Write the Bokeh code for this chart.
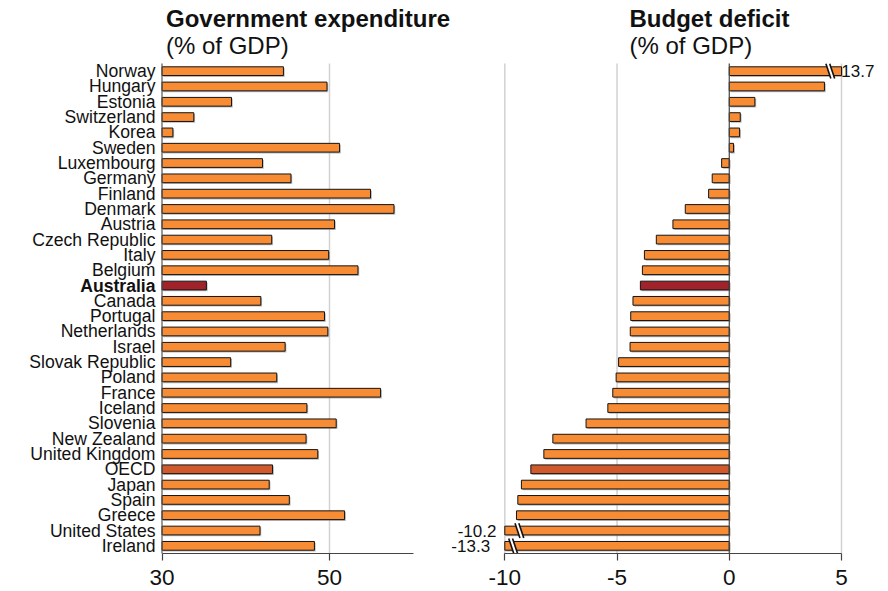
import numpy as np
from bokeh.plotting import figure
from bokeh.layouts import row
from bokeh.models import FixedTicker, ColumnDataSource, Range1d
from bokeh.transform import dodge
from bokeh.core.properties import value, field
from bokeh.embed import file_html
from bokeh.resources import INLINE

countries = ["Norway", "Hungary", "Estonia", "Switzerland", "Korea", "Sweden",
             "Luxembourg", "Germany", "Finland", "Denmark", "Austria",
             "Czech Republic", "Italy", "Belgium", "Australia", "Canada",
             "Portugal", "Netherlands", "Israel", "Slovak Republic", "Poland",
             "France", "Iceland", "Slovenia", "New Zealand", "United Kingdom",
             "OECD", "Japan", "Spain", "Greece", "United States", "Ireland"]
expenditure = [44.5, 49.7, 38.3, 33.8, 31.3, 51.2, 42.0, 45.4, 54.9, 57.7, 50.6,
               43.1, 49.9, 53.4, 35.3, 41.8, 49.4, 49.8, 44.7, 38.2, 43.7, 56.1,
               47.3, 50.8, 47.2, 48.6, 43.2, 42.8, 45.2, 51.8, 41.7, 48.2]
deficit = [13.7, 4.24, 1.14, 0.49, 0.46, 0.19, -0.34, -0.76, -0.92, -1.96, -2.51,
           -3.25, -3.78, -3.87, -3.96, -4.29, -4.39, -4.41, -4.42, -4.93, -5.04,
           -5.19, -5.41, -6.38, -7.86, -8.26, -8.84, -9.26, -9.42, -9.48, -10.2,
           -13.3]
exp_ticks = [30, 50]
exp_grid = [50]
def_ticks = [-10, -5, 0, 5]
def_grid = [-10, -5, 5]
exp_title, def_title, unit_title = "Government expenditure", "Budget deficit", "(% of GDP)"

FONT = "Liberation Sans"
TXT = "#111111"
ORANGE = "#F78C35"
HILITE = {"Australia": "#A0222A", "OECD": "#D05A2C"}
BOLD = {"Australia"}

n = len(countries)
ys = list(range(n))
x0_l, x1_l = 30, 60
x0_r, x1_r = -10, 5
src = ColumnDataSource(dict(
    y=ys, name=countries, exp=expenditure, dfc=deficit,
    dfc_c=list(np.clip(deficit, x0_r, x1_r)),
    color=[HILITE.get(c, ORANGE) for c in countries],
    fstyle=["bold" if c in BOLD else "normal" for c in countries]))

# ---- geometry (pixels) ----
H = 590
ROWS_BOTTOM = 553           # axis line position (page y)
ROWS_TOP = 63               # first row band starts here
ROW_PX = (ROWS_BOTTOM - ROWS_TOP) / n
y_top = -0.5 - ROWS_TOP / ROW_PX
y_bot = n - 0.5 + (H - ROWS_BOTTOM) / ROW_PX
W1 = 451
L_X30, L_PX = 161.5, (329.0 - 161.5) / 20     # left panel: pixel of 30, px per unit
W2 = 430
R_XM10, R_PX = 504.3 - W1, (841.0 - 504.3) / 15  # right panel (local px)
BAR_H = 0.57


def make_fig(w, xr):
    p = figure(width=w, height=H, x_range=xr, y_range=Range1d(y_bot, y_top),
               output_backend="svg", toolbar_location=None,
               min_border_left=0, min_border_right=0, min_border_top=0,
               min_border_bottom=0)
    p.outline_line_color = None
    p.grid.visible = False
    p.yaxis.visible = False
    return p


def style_xaxis(p, ticks, bounds):
    ax = p.xaxis[0]
    ax.fixed_location = n - 0.5
    ax.bounds = bounds
    ax.ticker = FixedTicker(ticks=ticks)
    ax.major_label_overrides = {t: str(t) for t in ticks}
    ax.axis_line_color = "#444444"
    ax.axis_line_width = 1.2
    ax.major_tick_line_color = "#444444"
    ax.major_tick_line_width = 1.2
    ax.major_tick_out = 7
    ax.major_tick_in = 0
    ax.minor_tick_line_color = None
    ax.major_label_standoff = 9
    ax.major_label_text_font = FONT
    ax.major_label_text_font_size = "22.5px"
    ax.major_label_text_color = TXT


def add_titles(p, x, xoff, title):
    p.text(x=[x], y=[-0.5], text=[title], x_offset=xoff, y_offset=-45.5,
           text_font=value(FONT), text_font_size="24px", text_font_style="bold",
           text_color=TXT, text_baseline="alphabetic", text_align="left")
    p.text(x=[x], y=[-0.5], text=[unit_title], x_offset=xoff, y_offset=-18,
           text_font=value(FONT), text_font_size="24px",
           text_color=TXT, text_baseline="alphabetic", text_align="left")


def grid_lines(p, xs):
    p.segment(x0=xs, x1=xs, y0=[-0.5] * len(xs), y1=[n - 0.5] * len(xs),
              line_color="#d2d2d2", line_width=1.5)


# ---------------- left panel: expenditure ----------------
xr1 = Range1d(x0_l - L_X30 / L_PX, x0_l + (W1 - L_X30) / L_PX)
p1 = make_fig(W1, xr1)
style_xaxis(p1, exp_ticks, (x0_l, x1_l))
grid_lines(p1, exp_grid)
p1.hbar(y=dodge("y", 0.09), left=x0_l + 0.15, right=dodge("exp", 0.15), height=BAR_H,
        fill_color="#8a8a8a", fill_alpha=0.6, line_color=None, source=src)
p1.hbar(y="y", left=x0_l, right="exp", height=BAR_H, fill_color="color",
        line_color="#141414", line_width=1, source=src)
p1.segment(x0=[x0_l], x1=[x0_l], y0=[-0.5], y1=[n - 0.5], line_color="#555555", line_width=1.2)
p1.text(x=x0_l, y="y", text="name", x_offset=-6.5, text_align="right",
        text_baseline="middle", text_font=value(FONT), text_font_size="17.6px",
        text_font_style=field("fstyle"), text_color=TXT, source=src)
add_titles(p1, x0_l, 4, exp_title)

# ---------------- right panel: deficit ----------------
xr2 = Range1d(x0_r - R_XM10 / R_PX, x0_r + (W2 - R_XM10) / R_PX)
p2 = make_fig(W2, xr2)
style_xaxis(p2, def_ticks, (x0_r, x1_r))
grid_lines(p2, def_grid)
p2.hbar(y=dodge("y", 0.09), left=0.06, right=dodge("dfc_c", 0.06), height=BAR_H,
        fill_color="#8a8a8a", fill_alpha=0.6, line_color=None, source=src)
p2.hbar(y="y", left=0, right="dfc_c", height=BAR_H, fill_color="color",
        line_color="#141414", line_width=1, source=src)
p2.segment(x0=[0], x1=[0], y0=[-0.5], y1=[n - 0.5], line_color="#444444", line_width=1.2)

# break marks and value labels for bars beyond the axis
break_gap = {"Norway": 0.5, "United States": 0.65, "Ireland": 0.37}
wx0, wx1, wy0, wy1 = [], [], [], []
kx0, kx1, ky0, ky1 = [], [], [], []
lab_pos = dict(x=[], y=[], t=[])
lab_neg = dict(x=[], y=[], t=[])
for i, (c, v) in enumerate(zip(countries, deficit)):
    if x0_r <= v <= x1_r:
        continue
    g = break_gap.get(c, 0.5)
    xb = x1_r - g if v > x1_r else x0_r + g
    s = 0.11
    wx0.append(xb - s); wx1.append(xb + s); wy0.append(i - 0.48); wy1.append(i + 0.48)
    for dx in (-0.085, 0.085):
        kx0.append(xb + dx - s); kx1.append(xb + dx + s)
        ky0.append(i - 0.48); ky1.append(i + 0.48)
    d = lab_pos if v > x1_r else lab_neg
    d["x"].append(xb); d["y"].append(i); d["t"].append(f"{v:.1f}")
p2.segment(x0=wx0, y0=wy0, x1=wx1, y1=wy1, line_color="white", line_width=3.5)
p2.segment(x0=kx0, y0=ky0, x1=kx1, y1=ky1, line_color="#111111", line_width=1.6)
p2.text(x=lab_pos["x"], y=lab_pos["y"], text=lab_pos["t"], x_offset=11,
        text_align="left", text_baseline="middle", text_font=value(FONT),
        text_font_size="17px", text_color=TXT)
p2.text(x=lab_neg["x"], y=lab_neg["y"], text=lab_neg["t"], x_offset=-23,
        text_align="right", text_baseline="middle", text_font=value(FONT),
        text_font_size="17px", text_color=TXT)
add_titles(p2, x0_r, 124.7, def_title)

layout = row(p1, p2)
open("out.html", "w").write(file_html(layout, INLINE))
